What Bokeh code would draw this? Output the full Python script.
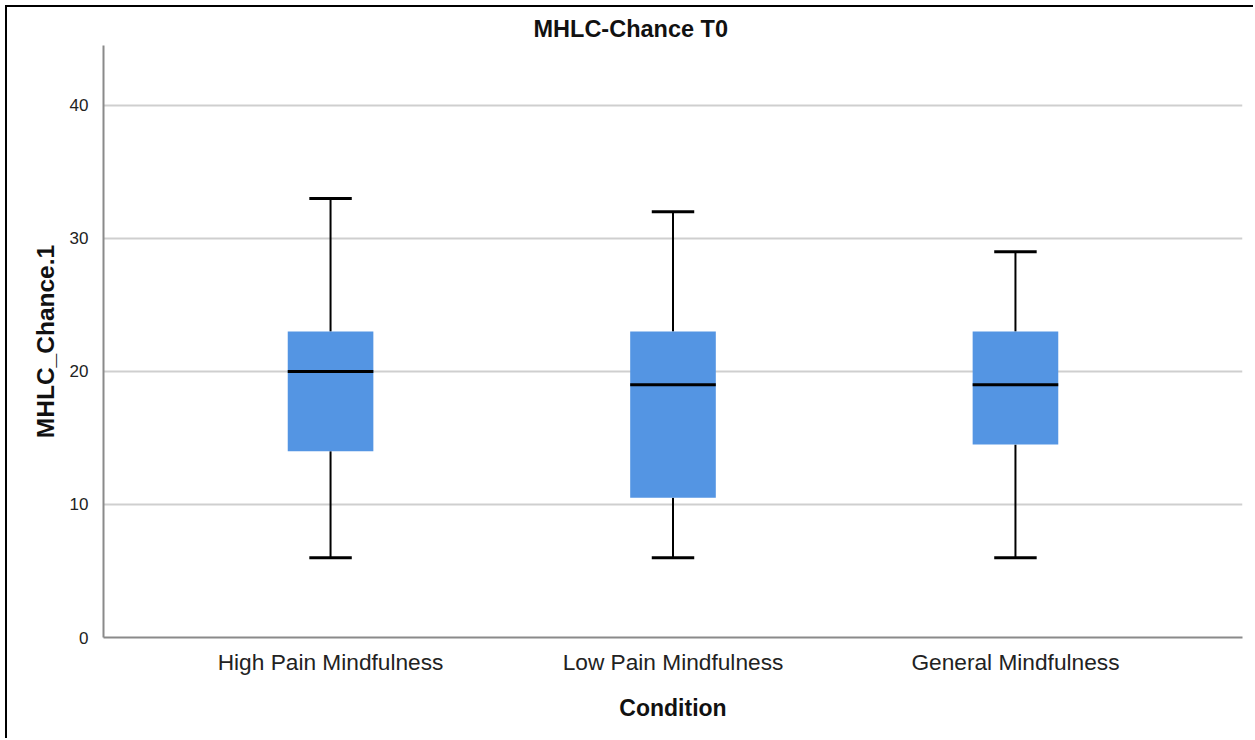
from bokeh.plotting import figure
from bokeh.models import Range1d, FixedTicker, ColumnDataSource
from bokeh.transform import dodge
from bokeh.embed import file_html
from bokeh.resources import INLINE

# Five-number summaries per condition
conditions = ["High Pain Mindfulness", "Low Pain Mindfulness", "General Mindfulness"]
whisker_low = [6, 6, 6]
q1 = [14, 10.5, 14.5]
median = [20, 19, 19]
q3 = [23, 23, 23]
whisker_high = [33, 32, 29]
y_ticks = [0, 10, 20, 30, 40]

positions = list(range(len(conditions)))
src = ColumnDataSource(dict(
    x=positions, low=whisker_low, q1=q1, med=median, q3=q3, high=whisker_high,
))

FONT = "Liberation Sans"
BOX_W = 0.25
CAP_HALF = 0.062

p = figure(
    width=1248, height=733,
    output_backend="svg", toolbar_location=None,
    x_range=Range1d(-0.663, len(conditions) - 1 + 0.663),
    y_range=Range1d(0, 44.5),
    min_border_left=96, min_border_right=13,
    min_border_top=38, min_border_bottom=103,
    title="MHLC-Chance T0",
)
p.styles = {"border-left": "2px solid #000", "border-top": "2px solid #000",
            "margin-left": "5px", "margin-top": "5px"}
p.outline_line_color = None
p.background_fill_color = "white"
p.border_fill_color = "white"

p.title.align = "left"
p.title.offset = 430
p.title.text_font = FONT
p.title.text_font_size = "23.5px"
p.title.text_font_style = "bold"
p.title.text_color = "#111111"
p.title.standoff = 8

# grid
p.xgrid.visible = False
p.ygrid.ticker = FixedTicker(ticks=y_ticks)
p.ygrid.grid_line_color = "#cfcfcf"
p.ygrid.grid_line_width = 2

# axes
p.yaxis.ticker = FixedTicker(ticks=y_ticks)
p.xaxis.ticker = FixedTicker(ticks=positions)
p.xaxis.major_label_overrides = {i: c for i, c in enumerate(conditions)}
for ax in (p.xaxis[0], p.yaxis[0]):
    ax.axis_line_color = "#8a8a8a"
    ax.axis_line_width = 2
    ax.major_tick_line_color = None
    ax.minor_tick_line_color = None
    ax.major_label_text_font = FONT
    ax.major_label_text_color = "#222222"
    ax.axis_label_text_font = FONT
    ax.axis_label_text_font_style = "bold"
    ax.axis_label_text_color = "#111111"
p.yaxis.major_label_text_font_size = "17px"
p.yaxis.major_label_standoff = 9
p.yaxis.axis_label = "MHLC_Chance.1"
p.yaxis.axis_label_text_font_size = "24.5px"
p.yaxis.axis_label_standoff = 8
p.xaxis.major_label_text_font_size = "22.7px"
p.xaxis.major_label_standoff = 5
p.xaxis.axis_label = "Condition"
p.xaxis.axis_label_text_font_size = "23px"
p.xaxis.axis_label_standoff = 17

# whiskers
p.segment(x0="x", y0="low", x1="x", y1="q1", source=src, line_color="black", line_width=2)
p.segment(x0="x", y0="q3", x1="x", y1="high", source=src, line_color="black", line_width=2)
# whisker caps
p.segment(x0=dodge("x", -CAP_HALF, range=p.x_range), y0="low",
          x1=dodge("x", CAP_HALF, range=p.x_range), y1="low",
          source=src, line_color="black", line_width=3)
p.segment(x0=dodge("x", -CAP_HALF, range=p.x_range), y0="high",
          x1=dodge("x", CAP_HALF, range=p.x_range), y1="high",
          source=src, line_color="black", line_width=3)
# boxes
p.vbar(x="x", width=BOX_W, bottom="q1", top="q3", source=src,
       fill_color="#5495e3", line_color=None)
# medians
p.segment(x0=dodge("x", -BOX_W / 2, range=p.x_range), y0="med",
          x1=dodge("x", BOX_W / 2, range=p.x_range), y1="med",
          source=src, line_color="black", line_width=3)

open("out.html", "w").write(file_html(p, INLINE))
